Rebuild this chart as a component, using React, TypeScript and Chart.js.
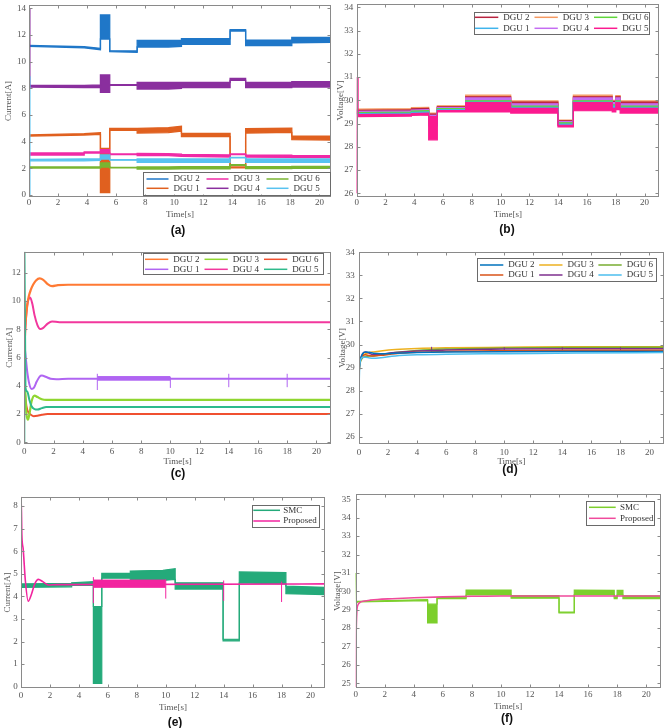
import React, { useEffect, useRef } from "react";
import { Chart, registerables } from "chart.js";
Chart.register(...registerables);

const SERIF = "'Liberation Serif', 'Times New Roman', serif";
const TICK = "#555555";

// ---------------- ticks ----------------
const xTicks = [0, 2, 4, 6, 8, 10, 12, 14, 16, 18, 20];
const yTicksA = [0, 2, 4, 6, 8, 10, 12, 14];
const yTicksB = [26, 27, 28, 29, 30, 31, 32, 33, 34];
const yTicksC = [0, 2, 4, 6, 8, 10, 12];
const yTicksD = [26, 27, 28, 29, 30, 31, 32, 33, 34];
const yTicksE = [0, 1, 2, 3, 4, 5, 6, 7, 8];
const yTicksF = [25, 26, 27, 28, 29, 30, 31, 32, 33, 34, 35];

// ---------------- panel (a): currents, conventional ----------------
const tA = [0, 0.03, 0.06, 3.8, 3.8, 4.92, 4.92, 5.56, 5.56, 7.45, 7.45, 9.6, 10.5, 10.5, 13.85, 13.85, 14.92, 14.92, 18.1, 18.1, 20.8];
const aDGU2hi = [11.22, 11.22, 11.22, 11.12, 11.12, 11.0, 13.5, 13.5, 10.82, 10.8, 11.6, 11.6, 11.62, 11.72, 11.72, 12.4, 12.4, 11.62, 11.62, 11.82, 11.82];
const aDGU2lo = [11.15, 11.15, 11.15, 11.04, 11.04, 10.9, 11.7, 11.7, 10.76, 10.7, 11.1, 11.1, 11.15, 11.3, 11.3, 12.3, 12.3, 11.2, 11.2, 11.42, 11.45];
const aDGU4hi = [14.0, 8.22, 8.22, 8.22, 8.22, 8.25, 9.0, 9.0, 8.28, 8.28, 8.45, 8.45, 8.45, 8.45, 8.45, 8.75, 8.75, 8.45, 8.45, 8.5, 8.5];
const aDGU4lo = [14.0, 8.2, 8.1, 8.05, 8.05, 8.05, 7.7, 7.7, 8.22, 8.22, 7.95, 7.95, 8.0, 8.05, 8.05, 8.6, 8.6, 8.05, 8.05, 8.1, 8.1];
const aDGU1hi = [4.5, 4.5, 4.5, 4.6, 4.6, 4.67, 3.5, 3.5, 5.0, 5.0, 5.0, 5.05, 5.15, 4.62, 4.62, 2.1, 2.1, 4.97, 5.02, 4.42, 4.42];
const aDGU1lo = [4.45, 4.42, 4.42, 4.5, 4.5, 4.55, 0.18, 0.18, 4.85, 4.85, 4.65, 4.68, 4.8, 4.38, 4.38, 2.04, 2.04, 4.65, 4.7, 4.15, 4.12];
const aDGU3hi = [3.15, 3.15, 3.15, 3.15, 3.23, 3.23, 3.4, 3.4, 3.08, 3.08, 3.12, 3.1, 3.06, 3.05, 3.0, 3.08, 3.08, 3.0, 2.98, 2.95, 2.95];
const aDGU3lo = [3.02, 3.0, 3.0, 3.0, 3.15, 3.15, 3.15, 3.15, 3.03, 3.03, 2.95, 2.95, 2.9, 2.9, 2.85, 3.03, 3.03, 2.85, 2.82, 2.8, 2.8];
const aDGU5hi = [0, 8.9, 2.67, 2.7, 2.7, 2.7, 3.0, 3.0, 2.66, 2.66, 2.7, 2.7, 2.7, 2.7, 2.7, 2.82, 2.82, 2.7, 2.7, 2.7, 2.7];
const aDGU5lo = [0, 8.9, 2.57, 2.56, 2.56, 2.6, 2.7, 2.7, 2.61, 2.61, 2.45, 2.45, 2.45, 2.45, 2.45, 2.78, 2.78, 2.45, 2.45, 2.45, 2.45];
const aDGU6hi = [2.1, 2.1, 2.1, 2.1, 2.1, 2.1, 2.4, 2.4, 2.07, 2.07, 2.1, 2.1, 2.12, 2.12, 2.12, 2.27, 2.27, 2.12, 2.12, 2.15, 2.15];
const aDGU6lo = [2.02, 2.02, 2.02, 2.02, 2.02, 2.02, 2.1, 2.1, 2.03, 2.03, 1.95, 1.95, 1.97, 1.97, 1.97, 2.22, 2.22, 1.98, 1.98, 2.0, 2.0];

// ---------------- panel (b): voltages, conventional ----------------
const tB = [0, 0.03, 0.08, 3.8, 3.8, 5.0, 5.0, 5.6, 5.6, 7.57, 7.57, 10.7, 10.7, 13.98, 13.98, 15.05, 15.05, 17.75, 17.75, 18.0, 18.0, 18.3, 18.3, 21];
const bDGU3hi = [29.62, 29.62, 29.62, 29.64, 29.68, 29.7, 29.45, 29.45, 29.76, 29.76, 30.22, 30.22, 29.97, 29.97, 29.15, 29.15, 30.22, 30.22, 30.0, 30.0, 30.2, 30.2, 29.97, 29.97];
const bDGU3lo = [29.55, 29.55, 29.55, 29.57, 29.6, 29.62, 29.3, 29.3, 29.7, 29.7, 30.05, 30.05, 29.85, 29.85, 29.1, 29.1, 30.05, 30.05, 29.9, 29.9, 30.05, 30.05, 29.85, 29.85];
const bDGU2hi = [29.57, 29.57, 29.57, 29.59, 29.63, 29.65, 29.4, 29.4, 29.72, 29.72, 30.15, 30.15, 29.92, 29.92, 29.12, 29.12, 30.15, 30.15, 29.95, 29.95, 30.15, 30.15, 29.92, 29.92];
const bDGU2lo = [29.5, 29.5, 29.5, 29.52, 29.56, 29.58, 29.2, 29.2, 29.66, 29.66, 29.95, 29.95, 29.8, 29.8, 29.07, 29.07, 29.95, 29.95, 29.85, 29.85, 29.95, 29.95, 29.8, 29.8];
const bDGU4hi = [29.52, 29.52, 29.52, 29.54, 29.58, 29.6, 29.35, 29.35, 29.68, 29.68, 30.1, 30.1, 29.85, 29.85, 29.08, 29.08, 30.1, 30.1, 29.9, 29.9, 30.1, 30.1, 29.85, 29.85];
const bDGU4lo = [29.46, 29.46, 29.46, 29.48, 29.52, 29.54, 29.0, 29.0, 29.62, 29.62, 29.9, 29.9, 29.7, 29.7, 29.02, 29.02, 29.9, 29.9, 29.75, 29.75, 29.9, 29.9, 29.7, 29.7];
const bDGU6hi = [29.47, 29.47, 29.47, 29.49, 29.53, 29.55, 29.25, 29.25, 29.64, 29.64, 29.98, 29.98, 29.75, 29.75, 29.03, 29.03, 29.98, 29.98, 29.8, 29.8, 29.98, 29.98, 29.75, 29.75];
const bDGU6lo = [29.43, 29.43, 29.43, 29.45, 29.49, 29.51, 29.0, 29.0, 29.6, 29.6, 29.85, 29.85, 29.65, 29.65, 28.99, 28.99, 29.85, 29.85, 29.7, 29.7, 29.85, 29.85, 29.65, 29.65];
const bDGU1hi = [29.43, 29.43, 29.43, 29.45, 29.48, 29.5, 29.2, 29.2, 29.6, 29.6, 29.92, 29.92, 29.7, 29.7, 28.98, 28.98, 29.92, 29.92, 29.75, 29.75, 29.92, 29.92, 29.7, 29.7];
const bDGU1lo = [29.38, 29.38, 29.38, 29.4, 29.44, 29.46, 28.9, 28.9, 29.56, 29.56, 29.75, 29.75, 29.6, 29.6, 28.94, 28.94, 29.75, 29.75, 29.62, 29.62, 29.75, 29.75, 29.6, 29.6];
const bDGU5hi = [26.0, 31.0, 29.38, 29.4, 29.43, 29.45, 29.3, 29.3, 29.56, 29.56, 29.9, 29.9, 29.65, 29.65, 28.92, 28.92, 29.9, 29.9, 29.65, 29.65, 29.9, 29.9, 29.65, 29.65];
const bDGU5lo = [26.0, 31.0, 29.3, 29.32, 29.35, 29.37, 28.3, 28.3, 29.5, 29.5, 29.5, 29.5, 29.45, 29.45, 28.85, 28.85, 29.55, 29.55, 29.5, 29.5, 29.6, 29.6, 29.45, 29.45];

// ---------------- panel (c): currents, proposed ----------------
const cDGU2t = [0, 0.1, 0.2, 0.3, 0.45, 0.6, 0.8, 1.05, 1.3, 1.6, 1.9, 2.3, 3, 21];
const cDGU2v = [6.5, 8.6, 9.7, 10.3, 10.8, 11.15, 11.45, 11.6, 11.5, 11.2, 11.05, 11.12, 11.15, 11.15];
const cDGU4t = [0, 0.1, 0.2, 0.3, 0.4, 0.55, 0.7, 0.9, 1.1, 1.3, 1.6, 1.9, 2.4, 3, 21];
const cDGU4v = [6.8, 8.6, 9.7, 10.15, 10.25, 9.8, 9.0, 8.3, 8.02, 8.1, 8.4, 8.55, 8.5, 8.5, 8.5];
const cDGU1t = [0, 0.1, 0.2, 0.35, 0.5, 0.65, 0.85, 1.05, 1.2, 1.5, 1.8, 2.2, 3, 21];
const cDGU1v = [7.0, 6.0, 5.0, 4.1, 3.78, 3.85, 4.3, 4.65, 4.72, 4.62, 4.5, 4.47, 4.5, 4.5];
const cDGU1bandT = [5, 10];
const cDGU1bandHi = [4.65, 4.65];
const cDGU1bandLo = [4.4, 4.4];
const cDGU1spikeT = [5, 5, 10, 10, 14, 14, 18, 18];
const cDGU1spikeV = [3.7, 4.85, 3.85, 4.62, 3.9, 4.85, 3.9, 4.85];
const cDGU3t = [0, 0.08, 0.15, 0.25, 0.35, 0.5, 0.7, 0.9, 1.2, 1.5, 2, 21];
const cDGU3v = [5.0, 3.2, 2.0, 1.6, 2.0, 2.9, 3.3, 3.2, 3.05, 3.0, 3.0, 3.0];
const cDGU6t = [0, 0.1, 0.2, 0.3, 0.45, 0.65, 0.9, 1.2, 1.6, 2.0, 21];
const cDGU6v = [4.2, 2.9, 2.3, 2.1, 1.95, 1.85, 1.88, 1.95, 2.0, 2.0, 2.0];
const cDGU5t = [0, 0.01, 0.08, 0.2, 0.35, 0.5, 0.7, 0.9, 1.2, 1.5, 2, 21];
const cDGU5v = [0, 13.5, 3.85, 3.6, 3.0, 2.55, 2.35, 2.32, 2.42, 2.5, 2.5, 2.5];

// ---------------- panel (d): voltages, proposed ----------------
const tD = [0, 0.02, 0.1, 0.25, 0.45, 0.7, 1.0, 1.5, 2.5, 4, 6, 10, 15, 21];
const dDGU5 = [25.7, 28.5, 29.3, 29.45, 29.45, 29.42, 29.4, 29.43, 29.5, 29.55, 29.58, 29.6, 29.63, 29.65];
const dDGU2 = [28.8, 29.0, 29.35, 29.6, 29.68, 29.66, 29.62, 29.6, 29.62, 29.65, 29.67, 29.69, 29.7, 29.7];
const dDGU1 = [28.6, 28.9, 29.3, 29.5, 29.55, 29.52, 29.5, 29.53, 29.6, 29.66, 29.7, 29.73, 29.75, 29.75];
const dDGU4 = [28.7, 29.0, 29.35, 29.6, 29.68, 29.62, 29.55, 29.58, 29.65, 29.72, 29.76, 29.8, 29.82, 29.82];
const dDGU6 = [28.6, 28.9, 29.25, 29.42, 29.48, 29.5, 29.5, 29.55, 29.65, 29.74, 29.8, 29.85, 29.87, 29.88];
const dDGU3 = [28.5, 28.9, 29.3, 29.5, 29.6, 29.65, 29.68, 29.72, 29.78, 29.83, 29.86, 29.88, 29.9, 29.9];
const dDGU4spikeT = [5, 5, 10, 10, 14, 14, 18, 18];
const dDGU4spikeV = [29.68, 29.9, 29.7, 29.88, 29.72, 29.88, 29.72, 29.88];

// ---------------- panel (e): DGU 1 current, SMC vs proposed ----------------
const tE = [0, 3.5, 3.5, 5.0, 5.0, 5.58, 5.58, 7.55, 7.55, 9.8, 10.65, 10.65, 13.96, 13.96, 15.08, 15.08, 18.3, 18.3, 21];
const eSMChi = [4.55, 4.57, 4.6, 4.65, 3.55, 3.55, 5.02, 5.02, 5.12, 5.15, 5.22, 4.6, 4.6, 2.1, 2.1, 5.08, 5.05, 4.45, 4.4];
const eSMClo = [4.4, 4.42, 4.48, 4.5, 0.15, 0.15, 4.8, 4.8, 4.65, 4.7, 4.75, 4.32, 4.32, 2.03, 2.03, 4.6, 4.55, 4.12, 4.08];
const ePropT = [0, 0.01, 0.06, 0.15, 0.3, 0.5, 0.7, 0.95, 1.2, 1.5, 1.9, 2.5, 21];
const ePropV = [0, 8.4, 6.7, 6.1, 4.7, 3.78, 4.05, 4.55, 4.75, 4.65, 4.5, 4.52, 4.55];
const ePropBandT = [5, 10];
const ePropBandHi = [4.72, 4.72];
const ePropBandLo = [4.4, 4.4];
const ePropSpikeT = [5, 5, 10, 10, 14, 14, 18, 18];
const ePropSpikeV = [3.7, 4.85, 3.9, 4.75, 3.8, 4.7, 3.75, 4.65];

// ---------------- panel (f): DGU voltage, SMC vs proposed ----------------
const tF = [0, 0.05, 0.15, 4.95, 4.95, 5.6, 5.6, 7.6, 7.6, 10.7, 10.7, 14, 14, 15.05, 15.05, 17.8, 17.8, 18.0, 18.0, 18.4, 18.4, 21];
const fSMChi = [31.0, 29.45, 29.45, 29.55, 29.3, 29.3, 29.66, 29.68, 30.07, 30.07, 29.77, 29.77, 28.87, 28.87, 30.07, 30.05, 29.7, 29.7, 30.05, 30.05, 29.77, 29.75];
const fSMClo = [31.0, 29.38, 29.42, 29.5, 28.28, 28.28, 29.6, 29.6, 29.8, 29.8, 29.63, 29.63, 28.83, 28.83, 29.82, 29.82, 29.6, 29.6, 29.8, 29.8, 29.6, 29.6];
const fPropT = [0, 0.03, 0.08, 0.15, 0.3, 0.6, 1.0, 1.5, 2.5, 4, 6, 8, 10, 21];
const fPropV = [24.8, 27.5, 28.9, 29.25, 29.4, 29.47, 29.52, 29.56, 29.6, 29.65, 29.7, 29.73, 29.75, 29.75];

// ---------------- helpers ----------------
type Layer = {
  label: string;
  color: string;
  t: number[];
  hi: number[];
  lo?: number[];
  w: number;
  smooth?: boolean;
  spikes?: boolean;
};

function toPts(t: number[], v: number[]) {
  return t.map((x, i) => ({ x, y: v[i] }));
}
function toSpikes(t: number[], v: number[]) {
  const out: any[] = [];
  for (let i = 0; i + 1 < t.length; i += 2) {
    out.push({ x: t[i], y: v[i] }, { x: t[i + 1], y: v[i + 1] }, { x: t[i + 1], y: null });
  }
  return out;
}

function datasetsFrom(layers: Layer[]) {
  const out: any[] = [];
  layers.forEach((L, k) => {
    const base = {
      borderColor: L.color,
      backgroundColor: L.color,
      borderWidth: L.w,
      pointRadius: 0,
      pointHoverRadius: 0,
      pointHitRadius: 0,
      order: 1000 - k,
      tension: 0,
      cubicInterpolationMode: L.smooth ? "monotone" : "default",
      spanGaps: false,
    };
    if (L.lo) {
      out.push({ ...base, label: L.label, data: toPts(L.t, L.hi), fill: "+1" });
      out.push({ ...base, label: "", data: toPts(L.t, L.lo), fill: false });
    } else if (L.spikes) {
      out.push({ ...base, label: L.label, data: toSpikes(L.t, L.hi), fill: false });
    } else {
      out.push({ ...base, label: L.label, data: toPts(L.t, L.hi), fill: false });
    }
  });
  return out;
}

const framePlugin = {
  id: "frame",
  afterDraw(chart: any) {
    const { ctx, chartArea: a, scales } = chart;
    ctx.save();
    ctx.strokeStyle = "#8a8a8a";
    ctx.lineWidth = 1;
    const l = Math.round(a.left) + 0.5;
    const r = Math.round(a.right) - 0.5;
    const t = Math.round(a.top) + 0.5;
    const b = Math.round(a.bottom) - 0.5;
    ctx.strokeRect(l, t, r - l, b - t);
    ctx.beginPath();
    for (const tk of scales.x.ticks) {
      const p = Math.round(scales.x.getPixelForValue(tk.value)) + 0.5;
      ctx.moveTo(p, b);
      ctx.lineTo(p, b - 3);
      ctx.moveTo(p, t);
      ctx.lineTo(p, t + 3);
    }
    for (const tk of scales.y.ticks) {
      const p = Math.round(scales.y.getPixelForValue(tk.value)) + 0.5;
      ctx.moveTo(l, p);
      ctx.lineTo(l + 3, p);
      ctx.moveTo(r, p);
      ctx.lineTo(r - 3, p);
    }
    ctx.stroke();
    ctx.restore();
  },
};

type LegendCfg = {
  box: number[];
  items: string[];
  rows: number;
  row0: number;
  rowGap: number;
  col0: number;
  colGap: number;
  lineLen: number;
  gap: number;
};

function makeLegend(cfg: LegendCfg) {
  return {
    id: "boxLegend",
    afterDraw(chart: any) {
      const { ctx } = chart;
      const [bx, by, bw, bh] = cfg.box;
      ctx.save();
      ctx.fillStyle = "#ffffff";
      ctx.fillRect(bx, by, bw, bh);
      ctx.strokeStyle = "#6a6a6a";
      ctx.lineWidth = 1;
      ctx.strokeRect(Math.round(bx) + 0.5, Math.round(by) + 0.5, Math.round(bw), Math.round(bh));
      ctx.font = `9px ${SERIF}`;
      ctx.textBaseline = "middle";
      ctx.textAlign = "left";
      cfg.items.forEach((label, i) => {
        const ds = chart.data.datasets.find((d: any) => d.label === label);
        const col = Math.floor(i / cfg.rows);
        const row = i % cfg.rows;
        const x = cfg.col0 + col * cfg.colGap;
        const y = cfg.row0 + row * cfg.rowGap;
        ctx.strokeStyle = ds ? ds.borderColor : "#000";
        ctx.lineWidth = 1.5;
        ctx.beginPath();
        ctx.moveTo(x, y);
        ctx.lineTo(x + cfg.lineLen, y);
        ctx.stroke();
        ctx.fillStyle = "#333333";
        ctx.fillText(label, x + cfg.lineLen + cfg.gap, y);
      });
      ctx.restore();
    },
  };
}

type PanelCfg = {
  id: string;
  tag: string;
  tagX: number;
  tagY: number;
  left: number;
  top: number;
  w: number;
  h: number;
  padTop: number;
  padRight: number;
  yW: number;
  xH: number;
  xPad: number;
  yPad: number;
  xTitlePad: number;
  yTitlePad: number;
  xMax: number;
  yMin: number;
  yMax: number;
  yTicks: number[];
  yTitle: string;
  layers: Layer[];
  legend: LegendCfg;
};

function buildConfig(p: PanelCfg): any {
  const font = { family: SERIF, size: 9, lineHeight: 1.2 };
  const zeroPad = (s: any) => {
    s.paddingLeft = 0;
    s.paddingRight = 0;
    s.paddingTop = 0;
    s.paddingBottom = 0;
  };
  return {
    type: "line",
    data: { datasets: datasetsFrom(p.layers) },
    options: {
      responsive: false,
      maintainAspectRatio: false,
      animation: false,
      devicePixelRatio: 1,
      events: [],
      layout: { padding: { left: 0, top: p.padTop, right: p.padRight, bottom: 0 } },
      plugins: {
        legend: { display: false },
        tooltip: { enabled: false },
        filler: { drawTime: "beforeDatasetDraw", propagate: false },
      },
      scales: {
        x: {
          type: "linear",
          position: "bottom",
          min: 0,
          max: p.xMax,
          afterBuildTicks: (s: any) => {
            s.ticks = xTicks.map((v) => ({ value: v }));
          },
          afterFit: (s: any) => {
            s.height = p.xH;
            zeroPad(s);
          },
          grid: { display: false, drawTicks: false },
          border: { display: false },
          ticks: {
            font,
            color: TICK,
            padding: p.xPad,
            maxRotation: 0,
            autoSkip: false,
            callback: (v: any) => String(v),
          },
          title: { display: true, text: "Time[s]", font, color: TICK, padding: { top: 0, bottom: p.xTitlePad } },
        },
        y: {
          type: "linear",
          position: "left",
          min: p.yMin,
          max: p.yMax,
          afterBuildTicks: (s: any) => {
            s.ticks = p.yTicks.map((v) => ({ value: v }));
          },
          afterFit: (s: any) => {
            s.width = p.yW;
            zeroPad(s);
          },
          grid: { display: false, drawTicks: false },
          border: { display: false },
          ticks: { font, color: TICK, padding: p.yPad, autoSkip: false, callback: (v: any) => String(v) },
          title: { display: true, text: p.yTitle, font, color: TICK, padding: { top: p.yTitlePad, bottom: 0 } },
        },
      },
    },
    plugins: [framePlugin, makeLegend(p.legend)],
  };
}

// ---------------- panel definitions ----------------
const DGU_ORDER = ["DGU 2", "DGU 1", "DGU 3", "DGU 4", "DGU 6", "DGU 5"];

const PANELS: PanelCfg[] = [
  {
    id: "a", tag: "(a)", tagX: 178, tagY: 230,
    left: 0, top: 0, w: 334, h: 240,
    padTop: 5, padRight: 3, yW: 29, xH: 43, xPad: 0.6, yPad: 3, xTitlePad: 19.6, yTitlePad: 2.9,
    xMax: 20.8, yMin: -0.15, yMax: 14.25, yTicks: yTicksA, yTitle: "Current[A]",
    layers: [
      { label: "DGU 1", color: "#e0601f", t: tA, hi: aDGU1hi, lo: aDGU1lo, w: 1.3 },
      { label: "DGU 2", color: "#1f77c8", t: tA, hi: aDGU2hi, lo: aDGU2lo, w: 1.3 },
      { label: "DGU 4", color: "#8a2f9e", t: tA, hi: aDGU4hi, lo: aDGU4lo, w: 1.3 },
      { label: "DGU 3", color: "#f02aa6", t: tA, hi: aDGU3hi, lo: aDGU3lo, w: 1.3 },
      { label: "DGU 5", color: "#58c2f0", t: tA, hi: aDGU5hi, lo: aDGU5lo, w: 1.3 },
      { label: "DGU 6", color: "#78b531", t: tA, hi: aDGU6hi, lo: aDGU6lo, w: 1.3 },
    ],
    legend: { box: [143, 172, 187, 22.5], items: DGU_ORDER, rows: 2, row0: 179, rowGap: 9.3, col0: 146.5, colGap: 60, lineLen: 22, gap: 5 },
  },
  {
    id: "b", tag: "(b)", tagX: 507, tagY: 229,
    left: 334, top: 0, w: 335, h: 240,
    padTop: 4, padRight: 10, yW: 22.7, xH: 43, xPad: 0.6, yPad: 3.4, xTitlePad: 19.6, yTitlePad: 1.3,
    xMax: 21, yMin: 25.84, yMax: 34.14, yTicks: yTicksB, yTitle: "Voltage[V]",
    layers: [
      { label: "DGU 3", color: "#f59a62", t: tB, hi: bDGU3hi, lo: bDGU3lo, w: 1.2 },
      { label: "DGU 2", color: "#b8233f", t: tB, hi: bDGU2hi, lo: bDGU2lo, w: 1.2 },
      { label: "DGU 4", color: "#c46cf2", t: tB, hi: bDGU4hi, lo: bDGU4lo, w: 1.2 },
      { label: "DGU 6", color: "#5fd63a", t: tB, hi: bDGU6hi, lo: bDGU6lo, w: 1.2 },
      { label: "DGU 1", color: "#3fb4ec", t: tB, hi: bDGU1hi, lo: bDGU1lo, w: 1.2 },
      { label: "DGU 5", color: "#fb1a8f", t: tB, hi: bDGU5hi, lo: bDGU5lo, w: 1.2 },
    ],
    legend: { box: [140, 11.7, 175, 21.6], items: DGU_ORDER, rows: 2, row0: 17.3, rowGap: 11, col0: 141, colGap: 59.5, lineLen: 23.3, gap: 5 },
  },
  {
    id: "c", tag: "(c)", tagX: 178, tagY: 473,
    left: 0, top: 240, w: 334, h: 240,
    padTop: 11.7, padRight: 3, yW: 24.3, xH: 36, xPad: 2.3, yPad: 3.6, xTitlePad: 12.9, yTitlePad: 3.9,
    xMax: 21, yMin: -0.12, yMax: 13.49, yTicks: yTicksC, yTitle: "Current[A]",
    layers: [
      { label: "DGU 6", color: "#f05030", t: cDGU6t, hi: cDGU6v, w: 2, smooth: true },
      { label: "DGU 3", color: "#90d630", t: cDGU3t, hi: cDGU3v, w: 2.2, smooth: true },
      { label: "", color: "#b065f2", t: cDGU1bandT, hi: cDGU1bandHi, lo: cDGU1bandLo, w: 1 },
      { label: "", color: "#b065f2", t: cDGU1spikeT, hi: cDGU1spikeV, w: 1, spikes: true },
      { label: "DGU 1", color: "#b065f2", t: cDGU1t, hi: cDGU1v, w: 2, smooth: true },
      { label: "DGU 4", color: "#f2379d", t: cDGU4t, hi: cDGU4v, w: 2, smooth: true },
      { label: "DGU 2", color: "#ff7a33", t: cDGU2t, hi: cDGU2v, w: 2.2, smooth: true },
      { label: "DGU 5", color: "#2fba8c", t: cDGU5t, hi: cDGU5v, w: 2, smooth: true },
    ],
    legend: { box: [142.7, 13.3, 180, 21], items: DGU_ORDER, rows: 2, row0: 19.3, rowGap: 10, col0: 145, colGap: 59.5, lineLen: 23.3, gap: 5 },
  },
  {
    id: "d", tag: "(d)", tagX: 510, tagY: 469,
    left: 334, top: 240, w: 335, h: 240,
    padTop: 11.7, padRight: 5, yW: 25, xH: 36, xPad: 2.9, yPad: 4.3, xTitlePad: 12.9, yTitlePad: 2.9,
    xMax: 21, yMin: 25.68, yMax: 34.03, yTicks: yTicksD, yTitle: "Voltage[V]",
    layers: [
      { label: "DGU 3", color: "#EDB120", t: tD, hi: dDGU3, w: 1.5, smooth: true },
      { label: "DGU 6", color: "#77AC30", t: tD, hi: dDGU6, w: 1.5, smooth: true },
      { label: "", color: "#7E2F8E", t: dDGU4spikeT, hi: dDGU4spikeV, w: 1, spikes: true },
      { label: "DGU 4", color: "#7E2F8E", t: tD, hi: dDGU4, w: 1.5, smooth: true },
      { label: "DGU 1", color: "#D95319", t: tD, hi: dDGU1, w: 1.5, smooth: true },
      { label: "DGU 2", color: "#0072BD", t: tD, hi: dDGU2, w: 1.5, smooth: true },
      { label: "DGU 5", color: "#4DBEEE", t: tD, hi: dDGU5, w: 1.5, smooth: true },
    ],
    legend: { box: [143.3, 18.3, 179.4, 23.4], items: DGU_ORDER, rows: 2, row0: 25, rowGap: 10, col0: 146, colGap: 59.2, lineLen: 23.3, gap: 5 },
  },
  {
    id: "e", tag: "(e)", tagX: 175, tagY: 721.7,
    left: 0, top: 480, w: 334, h: 248,
    padTop: 16.7, padRight: 9, yW: 21, xH: 39.7, xPad: 2.3, yPad: 3.3, xTitlePad: 14.9, yTitlePad: 1.9,
    xMax: 21, yMin: -0.07, yMax: 8.41, yTicks: yTicksE, yTitle: "Current[A]",
    layers: [
      { label: "SMC", color: "#24aa7a", t: tE, hi: eSMChi, lo: eSMClo, w: 1.2 },
      { label: "", color: "#f2249f", t: ePropBandT, hi: ePropBandHi, lo: ePropBandLo, w: 1 },
      { label: "", color: "#f2249f", t: ePropSpikeT, hi: ePropSpikeV, w: 1, spikes: true },
      { label: "Proposed", color: "#f2249f", t: ePropT, hi: ePropV, w: 1.6, smooth: true },
    ],
    legend: { box: [251.7, 25, 66.6, 21.7], items: ["SMC", "Proposed"], rows: 2, row0: 30.3, rowGap: 10.7, col0: 253.3, colGap: 0, lineLen: 26.7, gap: 3.3 },
  },
  {
    id: "f", tag: "(f)", tagX: 507, tagY: 718,
    left: 334, top: 480, w: 335, h: 248,
    padTop: 14, padRight: 8.3, yW: 21.7, xH: 39.7, xPad: 1.3, yPad: 5, xTitlePad: 15.9, yTitlePad: -2.1,
    xMax: 21, yMin: 24.73, yMax: 35.29, yTicks: yTicksF, yTitle: "Voltage[V]",
    layers: [
      { label: "SMC", color: "#7ccf2c", t: tF, hi: fSMChi, lo: fSMClo, w: 1.2 },
      { label: "Proposed", color: "#f04a9c", t: fPropT, hi: fPropV, w: 1.6, smooth: true },
    ],
    legend: { box: [251.7, 20.7, 67.6, 24.3], items: ["SMC", "Proposed"], rows: 2, row0: 27.3, rowGap: 11, col0: 255, colGap: 0, lineLen: 26.7, gap: 4.3 },
  },
];

function Panel({ p }: { p: PanelCfg }) {
  const ref = useRef<HTMLCanvasElement>(null);
  useEffect(() => {
    if (!ref.current) return;
    const chart = new Chart(ref.current, buildConfig(p));
    return () => chart.destroy();
  }, [p]);
  return (
    <canvas
      ref={ref}
      width={p.w}
      height={p.h}
      style={{ position: "absolute", left: p.left, top: p.top, width: p.w, height: p.h }}
    />
  );
}

export default function App() {
  return (
    <div style={{ position: "absolute", left: 0, top: 0, width: 669, height: 728, background: "#ffffff", overflow: "hidden" }}>
      {PANELS.map((p) => (
        <Panel key={p.id} p={p} />
      ))}
      {PANELS.map((p) => (
        <div
          key={p.id + "-tag"}
          style={{
            position: "absolute",
            left: p.tagX,
            top: p.tagY,
            transform: "translate(-50%, -50%)",
            font: "bold 12px 'Liberation Sans', Arial, sans-serif",
            color: "#111111",
            whiteSpace: "nowrap",
          }}
        >
          {p.tag}
        </div>
      ))}
    </div>
  );
}
